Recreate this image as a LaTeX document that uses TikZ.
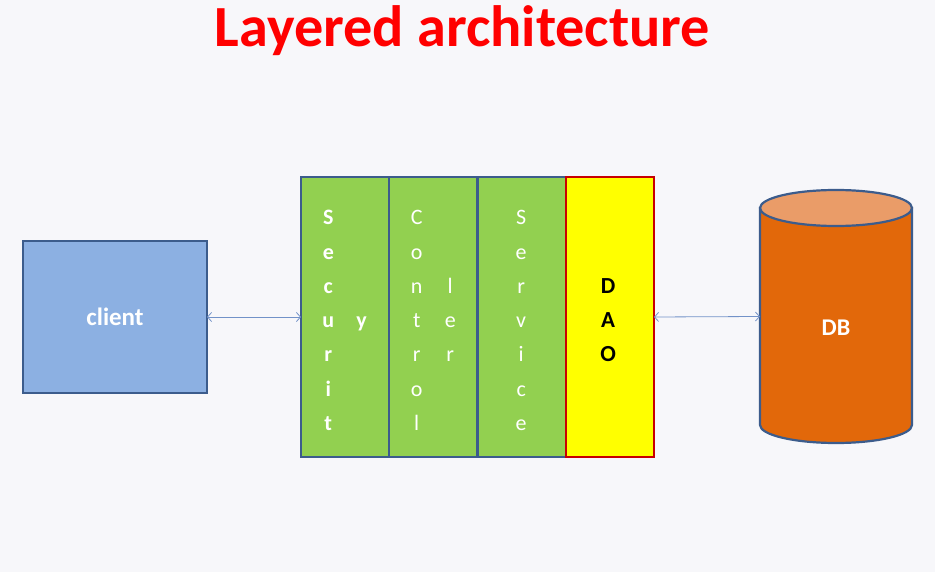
\documentclass[tikz,border=0pt]{standalone}
\usepackage{fontspec}
\setmainfont{Carlito}
\usetikzlibrary{positioning, arrows.meta, calc}

\definecolor{bgcolor}{HTML}{F7F7FA}
\definecolor{titlered}{HTML}{FF0000}
\definecolor{boxblue}{HTML}{3C5C8C}
\definecolor{clientblue}{HTML}{8CB0E2}
\definecolor{layergreen}{HTML}{92D050}
\definecolor{daoyellow}{HTML}{FFFF00}
\definecolor{daored}{HTML}{C80000}
\definecolor{dborange}{HTML}{E2680A}
\definecolor{dbpeach}{HTML}{EA9C68}
\definecolor{linkblue}{HTML}{7292C8}

\begin{document}
\begin{tikzpicture}[
        x=1pt, y=-1pt,
        box/.style={draw=boxblue, line width=2.2pt, rectangle, outer sep=0pt},
        layer/.style={box, fill=layergreen, minimum width=88.25pt, minimum height=280pt},
        letter/.style={anchor=base, inner sep=0pt, text=white, font=\fontsize{22}{22}\selectfont},
        boldletter/.style={letter, font=\fontsize{22}{22}\selectfont\bfseries},
        link/.style={{Straight Barb[length=4pt,width=9pt]}-{Straight Barb[length=4pt,width=9pt]}, draw=linkblue, line width=0.8pt},
        dbline/.style={draw=boxblue, line width=2.2pt}
    ]

    % Background and page size
    \fill[bgcolor] (0,0) rectangle (935,572);
    \useasboundingbox (0,0) rectangle (935,572);

    % Title
    \node[anchor=base, text=titlered, font=\fontsize{58.3}{58.3}\selectfont\bfseries] (title) at (462.5,47) {Layered architecture};

    % Client
    \node[box, fill=clientblue, minimum width=184pt, minimum height=152pt, text=white, font=\fontsize{25}{25}\selectfont\bfseries] (client) at (115,317) {client};

    % Layer stack
    \node[layer] (sec) at (345.125,317) {};
    \node[layer, right=0pt of sec] (ctl) {};
    \node[layer, right=0pt of ctl] (svc) {};
    \node[layer, fill=daoyellow, draw=daored, right=0pt of svc] (dao) {};

    % Letters of the layers
    \foreach \ch [count=\i from 0] in {S,e,c,u,r,i,t}
        \node[boldletter] (sec\i) at ($(sec.north west)+(27.3,48+\i*34.2)$) {\ch};
    \node[boldletter] (secy) at ($(sec.north west)+(60.7,48+3*34.2)$) {y};
    \foreach \ch [count=\i from 0] in {C,o,n,t,r,o,l}
        \node[letter] (ctl\i) at ($(ctl.north west)+(27.5,48+\i*34.2)$) {\ch};
    \foreach \ch [count=\i from 2] in {l,e,r}
        \node[letter] (ctlb\i) at ($(ctl.north west)+(61,48+\i*34.2)$) {\ch};
    \foreach \ch [count=\i from 0] in {S,e,r,v,i,c,e}
        \node[letter] (svc\i) at ($(svc.north west)+(43.7,48+\i*34.2)$) {\ch};
    \foreach \ch [count=\i from 2] in {D,A,O}
        \node[boldletter, text=black, font=\fontsize{23}{23}\selectfont\bfseries] (dao\i) at ($(dao.north west)+(42.3,48+\i*34.2)$) {\ch};

    % Database
    \node[minimum width=152pt, minimum height=253pt, inner sep=0pt, outer sep=0pt] (db) at (836,316.5) {};
    \coordinate (dbtop) at ($(db.north)+(0,18)$);
    \coordinate (dbbot) at ($(db.south)+(0,-18)$);
    \filldraw[dbline, fill=dborange] ($(dbtop)+(-76,0)$) -- ($(dbbot)+(-76,0)$)
        arc[start angle=180, end angle=360, x radius=76pt, y radius=18pt]
        -- ($(dbtop)+(76,0)$) -- cycle;
    \filldraw[dbline, fill=dbpeach] (dbtop) ellipse[x radius=76pt, y radius=18pt];
    \node[anchor=base, text=white, font=\fontsize{24}{24}\selectfont\bfseries] (dblabel) at ($(db.center)+(0,18.5)$) {DB};

    % Connectors
    \draw[link] (client.east) -- (sec.west);
    \draw[link] (dao.east) -- (db.west);

\end{tikzpicture}
\end{document}
